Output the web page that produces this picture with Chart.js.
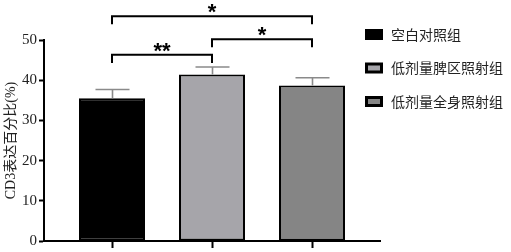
<!DOCTYPE html>
<html>
<head>
<meta charset="utf-8">
<script src="https://cdn.jsdelivr.net/npm/chart.js@4.4.1/dist/chart.umd.min.js"></script>
<style>
html,body{margin:0;padding:0;background:#fff;}
#c{display:block;}
</style>
</head>
<body>
<canvas id="c" width="511" height="252"></canvas>
<script>
// ---- data ----
const categories = ['空白对照组', '低剂量脾区照射组', '低剂量全身照射组'];
const means = [35.5, 41.4, 38.7];
const errors = [2.2, 1.9, 1.9];
const barColors = ['#000000', '#a6a5aa', '#858585'];
const yTicks = [0, 10, 20, 30, 40, 50];
const yTitle = 'CD3表达百分比(%)';
// significance brackets
const bracketFrom = [0, 1, 0];
const bracketTo = [1, 2, 2];
const bracketLevel = [46.3, 50.2, 55.9];
const bracketLabel = ['**', '*', '*'];

const points = means.map((v, i) => ({x: i, y: v}));

const errorBarPlugin = {
  id: 'errorBars',
  afterDatasetsDraw(chart) {
    const ctx = chart.ctx;
    const meta = chart.getDatasetMeta(0);
    const ys = chart.scales.y;
    ctx.save();
    ctx.strokeStyle = '#8a8a8a';
    ctx.lineWidth = 1.6;
    meta.data.forEach((bar, i) => {
      const top = ys.getPixelForValue(means[i] + errors[i]);
      const x = Math.round(bar.x) + 0.5;
      ctx.beginPath();
      ctx.moveTo(x, bar.y);
      ctx.lineTo(x, top);
      ctx.moveTo(x - 17, top);
      ctx.lineTo(x + 17, top);
      ctx.stroke();
    });
    ctx.restore();
  }
};

const bracketPlugin = {
  id: 'brackets',
  afterDraw(chart) {
    const ctx = chart.ctx;
    const xs = chart.scales.x, ys = chart.scales.y;
    ctx.save();
    ctx.strokeStyle = '#000';
    ctx.lineWidth = 2;
    ctx.fillStyle = '#000';
    ctx.font = 'bold 22px "Liberation Sans"';
    ctx.textAlign = 'center';
    ctx.textBaseline = 'alphabetic';
    for (let k = 0; k < bracketFrom.length; k++) {
      const x1 = xs.getPixelForValue(bracketFrom[k]);
      const x2 = xs.getPixelForValue(bracketTo[k]);
      const y = ys.getPixelForValue(bracketLevel[k]);
      const leg = ys.getPixelForValue(bracketLevel[k] - 2) - y;
      ctx.beginPath();
      ctx.moveTo(x1, y + leg);
      ctx.lineTo(x1, y);
      ctx.lineTo(x2, y);
      ctx.lineTo(x2, y + leg);
      ctx.stroke();
      ctx.fillText(bracketLabel[k], (x1 + x2) / 2, y + 3);
    }
    ctx.restore();
  }
};

const legendPlugin = {
  id: 'customLegend',
  afterDraw(chart) {
    const ctx = chart.ctx;
    const rowsY = [34.5, 68, 101.5];
    ctx.save();
    ctx.font = '14px "Noto Sans CJK SC"';
    ctx.textBaseline = 'middle';
    ctx.textAlign = 'left';
    categories.forEach((c, i) => {
      const y = rowsY[i];
      ctx.fillStyle = '#000';
      ctx.fillRect(365, y - 5.5, 18, 11);
      if (i > 0) {
        ctx.fillStyle = barColors[i];
        ctx.fillRect(368, y - 2.5, 12, 5);
      }
      ctx.fillStyle = '#222';
      ctx.fillText(c, 391, y);
    });
    ctx.restore();
  }
};

new Chart(document.getElementById('c'), {
  type: 'bar',
  data: {
    datasets: [{
      data: points,
      backgroundColor: barColors,
      borderColor: '#000',
      borderWidth: 2,
      borderSkipped: false,
      barPercentage: 0.66,
      categoryPercentage: 1
    }]
  },
  options: {
    responsive: false,
    animation: false,
    devicePixelRatio: 1,
    layout: {padding: {left: 0, top: 40, right: 131, bottom: 0}},
    plugins: {legend: {display: false}, tooltip: {enabled: false}},
    scales: {
      x: {
        type: 'linear',
        offset: false,
        min: -0.68,
        max: 2.68,
        afterBuildTicks(s) { s.ticks = categories.map((_, i) => ({value: i})); },
        afterFit(s) { s.height = 9; },
        ticks: {callback: () => '', padding: 0},
        grid: {offset: false, drawOnChartArea: false, tickLength: 7, tickWidth: 2, tickColor: '#000'},
        border: {color: '#000', width: 2}
      },
      y: {
        min: 0,
        max: 50,
        afterBuildTicks(s) { s.ticks = yTicks.map(v => ({value: v})); },
        afterFit(s) { s.width = 44; },
        ticks: {
          color: '#222',
          padding: 2,
          font: {family: '"Liberation Serif"', size: 15}
        },
        grid: {drawOnChartArea: false, tickLength: 5, tickWidth: 2, tickColor: '#000'},
        border: {color: '#000', width: 2},
        title: {
          display: true,
          text: yTitle,
          color: '#222',
          padding: {top: 3, bottom: 0},
          font: {family: '"Liberation Serif", "Noto Sans CJK SC"', size: 14, weight: 'normal'}
        }
      }
    }
  },
  plugins: [errorBarPlugin, bracketPlugin, legendPlugin]
});
</script>
</body>
</html>
